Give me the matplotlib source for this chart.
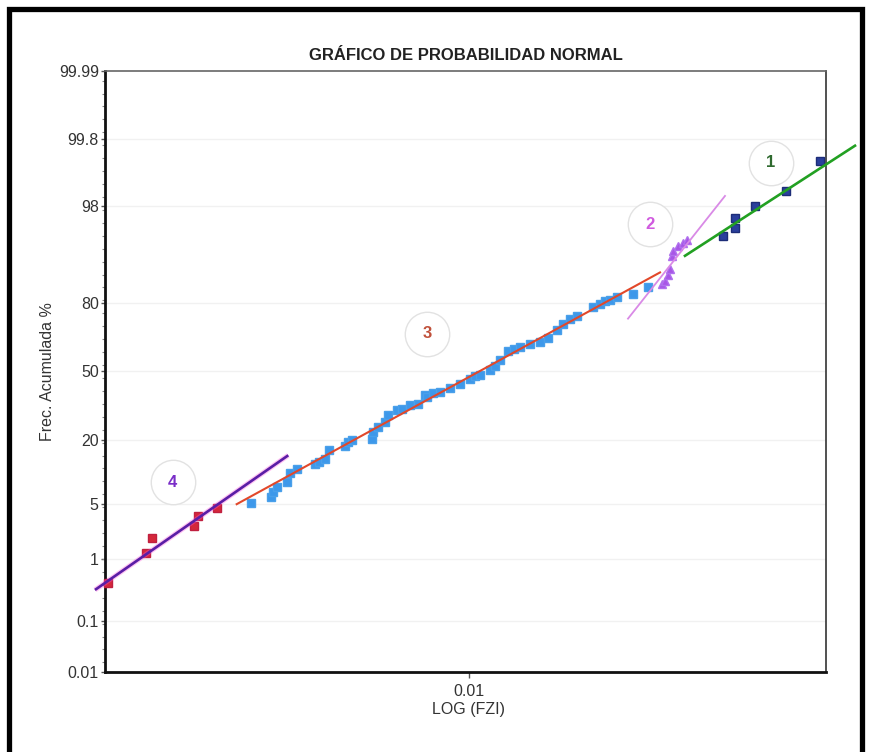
import math
import numpy as np
import matplotlib
matplotlib.use("Agg")
import matplotlib.pyplot as plt
from matplotlib.patches import Rectangle
from matplotlib.ticker import FixedLocator, NullLocator, FixedFormatter

plt.rcParams['font.family'] = ['Liberation Sans', 'DejaVu Sans']

# ---------------- data ----------------
fzi_4 = [0.000996, 0.001265, 0.001314, 0.001722, 0.00177, 0.0020]
frec_4 = [0.45, 1.22, 1.98, 2.81, 3.67, 4.50]

fzi_3 = [0.00248, 0.00281, 0.00286, 0.00292, 0.00313, 0.00318, 0.00332, 0.00374,
         0.00384, 0.00398, 0.00409, 0.00452, 0.00462, 0.00472, 0.00537, 0.00542,
         0.00560, 0.00584, 0.00597, 0.00630, 0.00650, 0.00686, 0.00723, 0.00755,
         0.00763, 0.00794, 0.00831, 0.00886, 0.00944, 0.01006, 0.01039, 0.01073,
         0.01144, 0.01181, 0.01219, 0.01286, 0.01334, 0.01386, 0.01477, 0.01575,
         0.01661, 0.01752, 0.01828, 0.01908, 0.01992, 0.02214, 0.02312, 0.02387,
         0.02465, 0.02573, 0.02860, 0.03148]
frec_3 = [5.21, 6.06, 6.81, 7.69, 8.61, 10.36, 11.49, 12.58,
          13.16, 14.08, 16.71, 17.75, 19.16, 19.74, 20.33, 22.73,
          24.59, 26.59, 29.38, 31.54, 32.29, 33.74, 34.50, 38.36,
          37.64, 39.31, 40.21, 41.99, 43.72, 46.31, 47.54, 48.13,
          50.79, 52.95, 55.84, 59.99, 61.18, 61.70, 63.46, 64.36,
          66.04, 69.79, 72.04, 74.15, 75.52, 78.84, 79.84, 80.97,
          81.33, 82.27, 83.13, 85.11]

fzi_2 = [0.03430, 0.03503, 0.03571, 0.03617, 0.03657, 0.03694, 0.03814, 0.03938, 0.04040]
frec_2 = [86.06, 86.93, 88.45, 89.76, 92.39, 93.24, 94.01, 94.48, 94.80]

fzi_1 = [0.05066, 0.05482, 0.05482, 0.06230, 0.07580, 0.09441]
frec_1 = [95.34, 96.20, 97.16, 97.98, 98.73, 99.54]

# fitted straight lines (end points)
line1_fzi = [0.03981, 0.1181]
line1_frec = [92.39, 99.74]
line2_fzi = [0.02765, 0.05142]
line2_frec = [74.35, 98.51]
line3_fzi = [0.002263, 0.03393]
line3_frec = [5.03, 88.99]
line4_fzi = [0.000914, 0.003148]
line4_frec = [0.343, 14.99]

ytick_vals = [0.01, 0.1, 1, 5, 20, 50, 80, 98, 99.8, 99.99]
ytick_labels = ['0.01', '0.1', '1', '5', '20', '50', '80', '98', '99.8', '99.99']
xtick_vals = [0.01]
xtick_labels = ['0.01']

segment_labels = ['1', '2', '3', '4']

# ---------------- probability (probit) scale ----------------
_a = [-3.969683028665376e+01, 2.209460984245205e+02, -2.759285104469687e+02,
      1.383577518672690e+02, -3.066479806614716e+01, 2.506628277459239e+00]
_b = [-5.447609879822406e+01, 1.615858368580409e+02, -1.556989798598866e+02,
      6.680131188771972e+01, -1.328068155288572e+01]
_c = [-7.784894002430293e-03, -3.223964580411365e-01, -2.400758277161838e+00,
      -2.549732539343734e+00, 4.374664141464968e+00, 2.938163982698783e+00]
_d = [7.784695709041462e-03, 3.224671290700398e-01, 2.445134137142996e+00,
      3.754408661907416e+00]


def _ppf(p):
    p = np.clip(np.asarray(p, dtype=float), 1e-12, 1 - 1e-12)
    plow = 0.02425
    out = np.empty_like(p)
    lo = p < plow
    hi = p > 1 - plow
    mid = ~(lo | hi)
    if np.any(lo):
        q = np.sqrt(-2 * np.log(p[lo]))
        out[lo] = (((((_c[0]*q+_c[1])*q+_c[2])*q+_c[3])*q+_c[4])*q+_c[5]) / \
                  ((((_d[0]*q+_d[1])*q+_d[2])*q+_d[3])*q+1)
    if np.any(hi):
        q = np.sqrt(-2 * np.log(1 - p[hi]))
        out[hi] = -(((((_c[0]*q+_c[1])*q+_c[2])*q+_c[3])*q+_c[4])*q+_c[5]) / \
                  ((((_d[0]*q+_d[1])*q+_d[2])*q+_d[3])*q+1)
    if np.any(mid):
        q = p[mid] - 0.5
        r = q * q
        out[mid] = (((((_a[0]*r+_a[1])*r+_a[2])*r+_a[3])*r+_a[4])*r+_a[5])*q / \
                   (((((_b[0]*r+_b[1])*r+_b[2])*r+_b[3])*r+_b[4])*r+1)
    return out


_verf = np.vectorize(math.erf)


def fwd(pct):
    pct = np.asarray(pct, dtype=float)
    return _ppf(pct / 100.0)


def inv(z):
    z = np.asarray(z, dtype=float)
    return 100.0 * 0.5 * (1.0 + _verf(z / math.sqrt(2.0)))


# ---------------- figure ----------------
W, H = 869, 752
fig = plt.figure(figsize=(W / 100, H / 100), dpi=100)
fig.patch.set_facecolor('white')

ax_l, ax_r, ax_t, ax_b = 105, 826, 71, 672
ax = fig.add_axes([ax_l / W, (H - ax_b) / H, (ax_r - ax_l) / W, (ax_b - ax_t) / H])

ax.set_xscale('log')
ax.set_yscale('function', functions=(fwd, inv))
ax.set_xlim(9.747e-4, 9.811e-2)
ax.set_ylim(0.01, 99.99)

# gridlines
for v in ytick_vals[1:-1]:
    ax.axhline(v, color='#f1f1f1', lw=1.0, zorder=0)

# data points
ax.plot(fzi_3, frec_3, 's', color='#3d98ea', mec='#4aa0ea', ms=6.0, zorder=3, clip_on=False)
ax.plot(fzi_4, frec_4, 's', color='#d4283a', mec='#c02040', ms=6.0, zorder=3, clip_on=False)
ax.plot(fzi_2, frec_2, '^', color='#a855e6', mec='#b070ee', ms=5.5, zorder=3, clip_on=False)
ax.plot(fzi_1, frec_1, 's', color='#2a3f9c', mec='#1d2d78', ms=5.8, zorder=3, clip_on=False)

# fitted lines
ax.plot(line4_fzi, line4_frec, '-', color='#ff55dd', lw=3.6, alpha=0.35, zorder=4,
        clip_on=False, solid_capstyle='butt')
ax.plot(line4_fzi, line4_frec, '-', color='#5a1ea6', lw=1.9, zorder=5, clip_on=False,
        solid_capstyle='butt')
ax.plot(line3_fzi, line3_frec, '-', color='#e2482a', lw=1.5, zorder=5, clip_on=False)
ax.plot(line2_fzi, line2_frec, '-', color='#d98ae6', lw=1.3, zorder=5, clip_on=False)
ax.plot(line1_fzi, line1_frec, '-', color='#22a022', lw=1.9, zorder=5, clip_on=False)

# segment labels in circles (axes-fraction positions)
label_pos = [(0.9233, 0.8477), (0.7559, 0.7453), (0.4466, 0.5631), (0.0939, 0.3161)]
label_cols = ['#2f6a2f', '#d05adf', '#c0503a', '#7a2ec8']
for lab, (px, py), col in zip(segment_labels, label_pos, label_cols):
    ax.plot([px], [py], 'o', ms=32, mfc='white', mec='#e2e2e2', mew=1.0,
            transform=ax.transAxes, zorder=2, clip_on=False)
    ax.text(px, py, lab, transform=ax.transAxes, ha='center', va='center',
            fontsize=12, color=col, fontweight='bold', zorder=6)

# ticks
ax.yaxis.set_major_locator(FixedLocator(ytick_vals))
ax.yaxis.set_major_formatter(FixedFormatter(ytick_labels))
ax.yaxis.set_minor_locator(FixedLocator(list(inv(np.arange(-3.6, 3.65, 0.16)))))
ax.xaxis.set_major_locator(FixedLocator(xtick_vals))
ax.xaxis.set_major_formatter(FixedFormatter(xtick_labels))
ax.xaxis.set_minor_locator(NullLocator())

ax.tick_params(axis='y', which='major', length=3, width=1, pad=1.5,
               labelsize=11.5, labelcolor='#333333', color='#555555')
ax.tick_params(axis='y', which='minor', length=2, width=0.8, color='#888888')
ax.tick_params(axis='x', which='major', length=4, width=1, pad=5,
               labelsize=11.5, labelcolor='#333333', color='#555555')

for s in ['left', 'bottom']:
    ax.spines[s].set_linewidth(2.0)
    ax.spines[s].set_color('#111111')
ax.spines['top'].set_linewidth(1.2)
ax.spines['top'].set_color('#666666')
ax.spines['right'].set_linewidth(1.2)
ax.spines['right'].set_color('#333333')

ax.set_ylabel('Frec. Acumulada %', fontsize=11.5, color='#333333')
ax.yaxis.set_label_coords((55 - ax_l) / (ax_r - ax_l), 0.5)
ax.set_xlabel('LOG (FZI)', fontsize=11.5, color='#333333')
ax.xaxis.set_label_coords(0.5048, (ax_b - 702) / (ax_b - ax_t))

fig.text(0.5 * (ax_l + ax_r) / W, 1 - 55 / H, 'GRÁFICO DE PROBABILIDAD NORMAL',
         ha='center', va='center', fontsize=12, fontweight='bold', color='#222222')

# outer frame
fig.add_artist(Rectangle((9 / W, -0.05), (862 - 9) / W, 1.05 - 9 / H,
                         transform=fig.transFigure, fill=False, lw=3.8,
                         ec='black', zorder=10))

fig.savefig('out.png', dpi=100, facecolor='white')
